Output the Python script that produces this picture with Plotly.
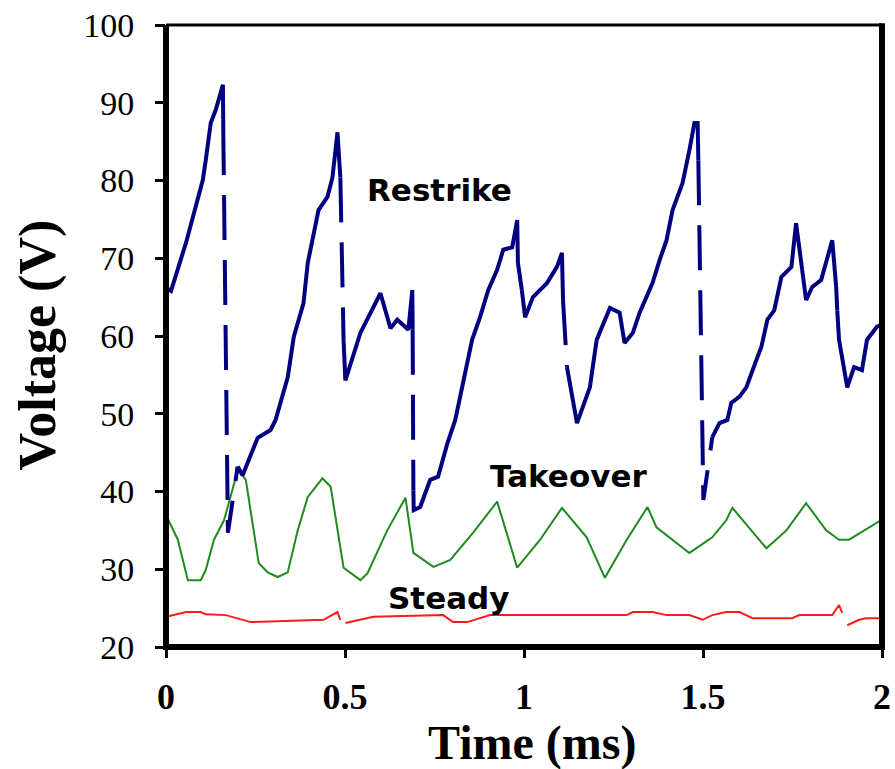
import plotly.graph_objects as go

# ---------------- data ----------------
restrike_t = [0.000, 0.014, 0.056, 0.078, 0.103, 0.111, 0.125, 0.139, 0.159, 0.160,
              0.173, 0.200, 0.214, 0.256, 0.292, 0.306, 0.340, 0.357, 0.384, 0.396,
              0.426, 0.451, 0.465, 0.479, 0.487, 0.496, 0.501, 0.543, 0.599, 0.627,
              0.646, 0.677, 0.688, 0.689, 0.691, 0.692, 0.710, 0.738, 0.760, 0.786,
              0.808, 0.830, 0.855, 0.877, 0.900, 0.925, 0.942, 0.967, 0.981, 0.983,
              0.994, 1.003, 1.025, 1.045, 1.064, 1.092, 1.106, 1.109, 1.120, 1.148,
              1.184, 1.203, 1.240, 1.267, 1.281, 1.304, 1.323, 1.343, 1.359, 1.379,
              1.398, 1.415, 1.443, 1.462, 1.476, 1.485, 1.487, 1.501, 1.526, 1.546,
              1.568, 1.579, 1.602, 1.621, 1.649, 1.663, 1.680, 1.699, 1.719, 1.747,
              1.760, 1.777, 1.788, 1.805, 1.830, 1.861, 1.872, 1.875, 1.880, 1.903,
              1.922, 1.944, 1.958, 1.986, 1.997]
restrike_v = [66.2, 65.8, 72.0, 75.8, 80.1, 82.6, 87.4, 89.1, 92.3, 86.5,
              34.7, 43.2, 42.1, 46.9, 47.9, 49.2, 54.7, 59.9, 64.2, 69.4,
              76.2, 77.9, 80.4, 86.2, 80.4, 59.5, 54.3, 60.4, 65.5, 61.0,
              62.1, 60.8, 65.9, 60.8, 40.1, 37.6, 38.0, 41.5, 41.9, 46.2,
              49.2, 54.3, 59.5, 62.4, 65.9, 68.5, 71.1, 71.4, 74.9, 69.4,
              65.9, 62.4, 65.0, 65.9, 66.8, 68.9, 70.7, 64.6, 56.0, 48.8,
              53.4, 59.5, 63.6, 63.0, 59.1, 60.4, 63.0, 65.0, 66.8, 69.8,
              72.3, 76.2, 79.7, 83.9, 87.4, 87.4, 82.6, 38.9, 47.0, 48.8,
              49.2, 51.4, 52.2, 53.4, 56.9, 58.6, 62.1, 63.3, 67.6, 68.9,
              74.5, 68.5, 64.6, 66.3, 67.2, 72.3, 66.3, 63.3, 59.5, 53.4,
              56.0, 55.6, 59.5, 61.2, 61.4]
# segments (i -> i+1) that are the sudden voltage drops (drawn dashed)
restrike_drop_segments = [9, 10, 24, 33, 49, 57, 76, 77, 91, 96]

takeover_t = [0.000, 0.033, 0.061, 0.097, 0.111, 0.134, 0.162, 0.201, 0.223, 0.259,
              0.284, 0.312, 0.340, 0.368, 0.396, 0.437, 0.460, 0.496, 0.543, 0.563,
              0.618, 0.669, 0.691, 0.747, 0.794, 0.858, 0.925, 0.981, 1.045, 1.106,
              1.175, 1.226, 1.287, 1.345, 1.370, 1.462, 1.526, 1.565, 1.582, 1.677,
              1.733, 1.788, 1.844, 1.880, 1.908, 1.997]
takeover_v = [37.0, 33.8, 28.6, 28.6, 29.9, 33.8, 36.3, 42.8, 41.5, 30.8,
              29.6, 29.0, 29.6, 35.0, 39.3, 41.7, 40.6, 30.2, 28.6, 29.5,
              35.0, 39.2, 32.1, 30.3, 31.2, 34.7, 38.7, 30.2, 33.8, 37.9,
              34.1, 28.9, 33.8, 38.0, 35.4, 32.1, 34.1, 36.3, 37.9, 32.7,
              35.0, 38.5, 35.0, 33.8, 33.8, 36.3]

steady_t = [0.000, 0.022, 0.056, 0.097, 0.111, 0.167, 0.237, 0.440, 0.479, 0.487,
            None, 0.501, 0.543, 0.579, 0.774, 0.802, 0.841, 0.905, 1.287, 1.304,
            1.359, 1.398, 1.462, 1.499, 1.526, 1.565, 1.602, 1.638, 1.749, 1.769,
            1.861, 1.880, 1.889, None, 1.903, 1.936, 1.955, 1.997]
steady_v = [23.9, 24.1, 24.5, 24.5, 24.2, 24.1, 23.2, 23.5, 24.5, 23.5,
            None, 23.1, 23.5, 23.9, 24.1, 23.2, 23.2, 24.1, 24.1, 24.5,
            24.5, 24.1, 24.1, 23.5, 24.1, 24.5, 24.5, 23.7, 23.7, 24.1,
            24.1, 25.4, 24.4, None, 22.8, 23.5, 23.7, 23.7]

x_ticks = [0, 0.5, 1, 1.5, 2]
x_tick_labels = ["0", "0.5", "1", "1.5", "2"]
y_ticks = [20, 30, 40, 50, 60, 70, 80, 90, 100]

labels = [("Restrike", 0.765, 78.8), ("Takeover", 1.125, 42.0), ("Steady", 0.79, 26.3)]

# ---------------- build restrike solid / dashed pieces ----------------
solid_x, solid_y, dash_x, dash_y = [], [], [], []
n = len(restrike_t)
prev_kind = None
for i in range(n - 1):
    kind = "dash" if i in restrike_drop_segments else "solid"
    xs, ys = (dash_x, dash_y) if kind == "dash" else (solid_x, solid_y)
    if kind != prev_kind:
        if xs:
            xs.append(None); ys.append(None)
        xs.append(restrike_t[i]); ys.append(restrike_v[i])
    xs.append(restrike_t[i + 1]); ys.append(restrike_v[i + 1])
    prev_kind = kind

NAVY = "#000080"
fig = go.Figure()
fig.add_trace(go.Scatter(x=steady_t, y=steady_v, mode="lines",
                         line=dict(color="#ff1a1a", width=2), connectgaps=False,
                         hoverinfo="skip"))
fig.add_trace(go.Scatter(x=takeover_t, y=takeover_v, mode="lines",
                         line=dict(color="#1f8a1f", width=2), hoverinfo="skip"))
fig.add_trace(go.Scatter(x=solid_x, y=solid_y, mode="lines", connectgaps=False,
                         line=dict(color=NAVY, width=4), hoverinfo="skip"))
fig.add_trace(go.Scatter(x=dash_x, y=dash_y, mode="lines", connectgaps=False,
                         line=dict(color=NAVY, width=4, dash="45px,20px"),
                         hoverinfo="skip"))

annotations = []
for txt, tx, ty in labels:
    annotations.append(dict(x=tx, y=ty, xref="x", yref="y", text=txt, showarrow=False,
                            font=dict(family="DejaVu Sans", size=31, color="black",
                                      weight="bold")))
annotations.append(dict(x=-0.179, y=0.486, xref="paper", yref="paper",
                        text="<b>Voltage (V)</b>", textangle=-90, showarrow=False,
                        xanchor="center", yanchor="middle",
                        font=dict(family="Liberation Serif", size=52, color="black")))
annotations.append(dict(x=0.511, y=-0.155, xref="paper", yref="paper",
                        text="<b>Time (ms)</b>", showarrow=False,
                        xanchor="center", yanchor="middle",
                        font=dict(family="Liberation Serif", size=48, color="black")))

shapes = [
    dict(type="line", xref="paper", yref="paper", x0=0, x1=0, y0=-0.005, y1=1.0,
         line=dict(color="black", width=6)),
    dict(type="line", xref="paper", yref="paper", x0=-0.004, x1=1.0, y0=0, y1=0,
         line=dict(color="black", width=6)),
    dict(type="line", xref="paper", yref="paper", x0=1, x1=1, y0=-0.005, y1=1.003,
         line=dict(color="black", width=6)),
    dict(type="line", xref="paper", yref="paper", x0=0, x1=1, y0=1, y1=1,
         line=dict(color="black", width=3)),
]

fig.update_layout(
    width=895, height=769,
    margin=dict(l=166, r=13, t=25, b=122),
    paper_bgcolor="white", plot_bgcolor="white",
    showlegend=False,
    annotations=annotations,
    shapes=shapes,
    xaxis=dict(range=[0, 2], tickvals=x_ticks, ticktext=x_tick_labels,
               showgrid=False, zeroline=False, showline=False, automargin=False,
               ticks="outside", ticklen=10, tickwidth=3, tickcolor="black",
               ticklabelstandoff=8,
               tickfont=dict(family="Liberation Serif", size=36, color="black",
                             weight="bold")),
    yaxis=dict(range=[20, 100], tickvals=y_ticks,
               showgrid=False, zeroline=False, showline=False, automargin=False,
               ticks="outside", ticklen=10, tickwidth=3, tickcolor="black",
               ticklabelstandoff=14,
               tickfont=dict(family="Liberation Serif", size=34, color="black")),
)

fig.write_html("out.html")
